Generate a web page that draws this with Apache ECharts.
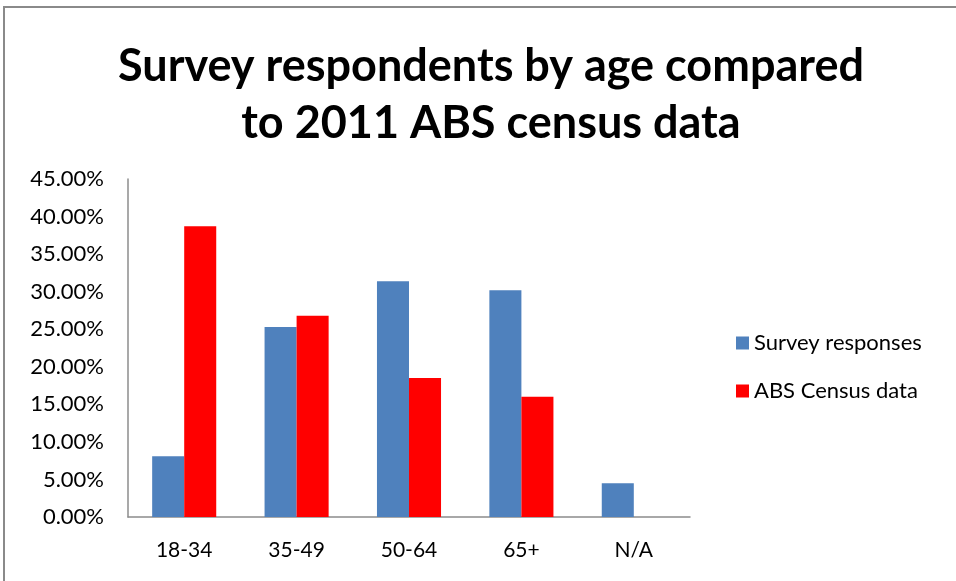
<!DOCTYPE html>
<html>
<head>
<meta charset="utf-8">
<script src="https://cdn.jsdelivr.net/npm/echarts@6/dist/echarts.min.js"></script>
<style>
html,body{margin:0;padding:0;background:#fff;width:956px;height:581px;overflow:hidden;}
#frame{position:absolute;left:3px;top:6px;width:1000px;height:700px;border-top:2px solid #8a8a8a;border-left:2px solid #8a8a8a;}
#chart{position:absolute;left:0;top:0;width:956px;height:581px;}
</style>
</head>
<body>
<div id="frame"></div>
<div id="chart"></div>
<script>
var categories = ['18-34', '35-49', '50-64', '65+', 'N/A'];
var surveyResponses = [8.1, 25.3, 31.4, 30.2, 4.5];
var absCensus = [38.7, 26.8, 18.5, 16.0, 0];
var yTicks = [0, 5, 10, 15, 20, 25, 30, 35, 40, 45];

var font = 'Lato, "Open Sans", sans-serif';
var chart = echarts.init(document.getElementById('chart'), null, {renderer: 'canvas'});
chart.setOption({
  backgroundColor: 'transparent',
  animation: false,
  title: {
    text: 'Survey respondents by age compared\nto 2011 ABS census data',
    left: 486,
    textAlign: 'center',
    top: 33,
    textStyle: {fontFamily: font, fontWeight: 'bold', fontSize: 45, lineHeight: 57, color: '#000'}
  },
  legend: {
    orient: 'vertical',
    left: 731,
    top: 327,
    itemGap: 26,
    itemWidth: 13,
    itemHeight: 13,
    icon: 'rect',
    textStyle: {fontFamily: font, fontSize: 22, color: '#000'},
    data: ['Survey responses', 'ABS Census data']
  },
  grid: {left: 128, right: 266, top: 179, bottom: 64},
  xAxis: {
    type: 'category',
    data: categories,
    axisLine: {lineStyle: {color: '#8c8c8c', width: 1.5}},
    axisTick: {show: false},
    axisLabel: {fontFamily: font, fontSize: 21, color: '#000', margin: 23}
  },
  yAxis: {
    type: 'value',
    min: yTicks[0],
    max: yTicks[yTicks.length - 1],
    interval: 5,
    splitLine: {show: false},
    axisLine: {show: true, lineStyle: {color: '#8c8c8c', width: 1.5}},
    axisTick: {show: false},
    axisLabel: {fontFamily: font, fontSize: 22, color: '#000', margin: 24,
      formatter: function (v) { return v.toFixed(2) + '%'; }}
  },
  series: [
    {name: 'Survey responses', type: 'bar', data: surveyResponses, barGap: '0%', barCategoryGap: '43%',
     itemStyle: {color: '#4f81bd'}},
    {name: 'ABS Census data', type: 'bar', data: absCensus, barGap: '0%', barCategoryGap: '43%',
     itemStyle: {color: '#ff0000'}}
  ]
});
</script>
</body>
</html>
